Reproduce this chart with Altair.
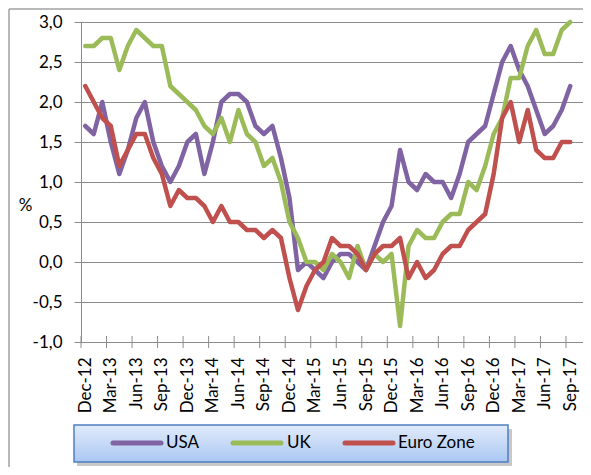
import altair as alt
import pandas as pd

# ---------------- data ----------------
tick_labels = ["Dec-12", "Mar-13", "Jun-13", "Sep-13", "Dec-13", "Mar-14", "Jun-14", "Sep-14",
               "Dec-14", "Mar-15", "Jun-15", "Sep-15", "Dec-15", "Mar-16", "Jun-16", "Sep-16",
               "Dec-16", "Mar-17", "Jun-17", "Sep-17"]
n_categories = 59  # monthly category axis Dec-12 .. Oct-17

usa = [1.7, 1.6, 2.0, 1.5, 1.1, 1.4, 1.8, 2.0, 1.5, 1.2,
       1.0, 1.2, 1.5, 1.6, 1.1, 1.5, 2.0, 2.1, 2.1, 2.0,
       1.7, 1.6, 1.7, 1.3, 0.8, -0.1, 0.0, -0.1, -0.2, 0.0,
       0.1, 0.1, 0.0, -0.1, 0.2, 0.5, 0.7, 1.4, 1.0, 0.9,
       1.1, 1.0, 1.0, 0.8, 1.1, 1.5, 1.6, 1.7, 2.1, 2.5,
       2.7, 2.4, 2.2, 1.9, 1.6, 1.7, 1.9, 2.2]
uk = [2.7, 2.7, 2.8, 2.8, 2.4, 2.7, 2.9, 2.8, 2.7, 2.7,
      2.2, 2.1, 2.0, 1.9, 1.7, 1.6, 1.8, 1.5, 1.9, 1.6,
      1.5, 1.2, 1.3, 1.0, 0.5, 0.3, 0.0, 0.0, -0.1, 0.1,
      0.0, -0.2, 0.2, -0.1, 0.1, 0.0, 0.1, -0.8, 0.2, 0.4,
      0.3, 0.3, 0.5, 0.6, 0.6, 1.0, 0.9, 1.2, 1.6, 1.8,
      2.3, 2.3, 2.7, 2.9, 2.6, 2.6, 2.9, 3.0]
euro = [2.2, 2.0, 1.8, 1.7, 1.2, 1.4, 1.6, 1.6, 1.3, 1.1,
        0.7, 0.9, 0.8, 0.8, 0.7, 0.5, 0.7, 0.5, 0.5, 0.4,
        0.4, 0.3, 0.4, 0.3, -0.2, -0.6, -0.3, -0.1, 0.0, 0.3,
        0.2, 0.2, 0.1, -0.1, 0.1, 0.2, 0.2, 0.3, -0.2, 0.0,
        -0.2, -0.1, 0.1, 0.2, 0.2, 0.4, 0.5, 0.6, 1.1, 1.8,
        2.0, 1.5, 1.9, 1.4, 1.3, 1.3, 1.5, 1.5]

series_names = ["USA", "UK", "Euro Zone"]
series_colors = ["#7f63a2", "#9bbb59", "#c0504d"]
y_ticks = [-1.0, -0.5, 0.0, 0.5, 1.0, 1.5, 2.0, 2.5, 3.0]

# ---------------- build tables ----------------
rows = []
for name, vals in zip(series_names, [usa, uk, euro]):
    for i, v in enumerate(vals):
        rows.append({"series": name, "m": i + 0.5, "value": v})
df = pd.DataFrame(rows)

tick_df = pd.DataFrame({"m": [3 * k for k in range(len(tick_labels))]})

W, H = 502, 320
FONT = "Lato"
GRID = "#8c8c8c"

x_scale = alt.Scale(domain=[0, n_categories], nice=False, zero=False)
y_scale = alt.Scale(domain=[-1, 3], nice=False, zero=False)

label_array = "[" + ",".join("'" + l + "'" for l in tick_labels) + "]"

x_axis = alt.Axis(
    values=[3 * k + 0.5 for k in range(len(tick_labels))],
    labelExpr=label_array + "[floor(datum.value / 3)]",
    labelAngle=270, labelAlign="right", labelBaseline="middle",
    ticks=False, tickSize=0, labelPadding=15,
    labelOverlap=False, labelFlush=False,
    labelFont=FONT, labelFontSize=17, labelColor="#000000",
    domainColor=GRID, domainWidth=1, grid=False, title=None,
)
y_axis = alt.Axis(
    values=y_ticks,
    labelExpr="(datum.value < 0 ? '-' : '') + replace(format(abs(datum.value), '.1f'), '.', ',')",
    labelFont=FONT, labelFontSize=17, labelColor="#000000", labelPadding=12,
    labelOverlap=False, labelFlush=False,
    tickSize=7, tickColor=GRID, domainColor=GRID, domainWidth=1,
    grid=True, gridColor=GRID, gridWidth=1,
    title="%", titleAngle=0, titleX=-56, titleY=183, titleAlign="center",
    titleBaseline="middle", titleFont=FONT, titleFontSize=17,
    titleFontWeight="normal", titleColor="#000000",
)

layers = []

# outer frame (left and top edges)
frame_df = pd.DataFrame({"k": [0]})
layers.append(alt.Chart(frame_df).mark_rule(color="#a0a0a0", strokeWidth=1.5).encode(
    x=alt.value(-72), y=alt.value(-13), y2=alt.value(470)))
layers.append(alt.Chart(frame_df).mark_rule(color="#a0a0a0", strokeWidth=1.5).encode(
    x=alt.value(-72), x2=alt.value(510), y=alt.value(-13)))

# data lines
for name, col in zip(series_names, series_colors):
    layers.append(
        alt.Chart(df).transform_filter(alt.datum.series == name)
        .mark_line(color=col, strokeWidth=4.5, strokeJoin="round", strokeCap="round")
        .encode(x=alt.X("m:Q", scale=x_scale, axis=x_axis),
                y=alt.Y("value:Q", scale=y_scale, axis=y_axis))
    )

# crossing tick marks on the category axis
layers.append(
    alt.Chart(tick_df).mark_rule(color=GRID, strokeWidth=1).encode(
        x=alt.X("m:Q", scale=x_scale, axis=x_axis),
        y=alt.YDatum(-1.075, scale=y_scale, axis=y_axis),
        y2=alt.datum(-0.925),
    )
)

# legend box with shadow and gradient
layers.append(alt.Chart(frame_df).mark_rect(color="#9a9a9a", opacity=0.55).encode(
    x=alt.value(-4), x2=alt.value(431), y=alt.value(407), y2=alt.value(444)))
grad = alt.Gradient(
    gradient="linear",
    stops=[alt.GradientStop(offset=0, color="#e2ebfa"),
           alt.GradientStop(offset=1, color="#a9c7f3")],
    x1=0, x2=0, y1=0, y2=1,
)
layers.append(alt.Chart(frame_df).mark_rect(fill=grad, stroke="#4f7fc0", strokeWidth=1.5).encode(
    x=alt.value(-7), x2=alt.value(427), y=alt.value(403), y2=alt.value(440)))

legend_line_x = [32, 152, 264]
legend_text_x = [85, 206, 317]
for name, col, lx, tx in zip(series_names, series_colors, legend_line_x, legend_text_x):
    ldf = pd.DataFrame({"label": [name]})
    layers.append(alt.Chart(ldf).mark_rule(color=col, strokeWidth=5, strokeCap="round").encode(
        x=alt.value(lx), x2=alt.value(lx + 48), y=alt.value(421)))
    layers.append(alt.Chart(ldf).mark_text(align="left", baseline="middle", font=FONT,
                                           fontSize=17, color="#000000").encode(
        x=alt.value(tx), y=alt.value(421), text="label:N"))

chart = alt.layer(*layers).properties(
    width=W, height=H,
    autosize=alt.AutoSizeParams(type="none"),
    padding={"left": 73, "top": 14, "right": 0, "bottom": 125},
).configure_view(strokeWidth=0)

chart.save("out.html", embed_options={"renderer": "svg", "actions": False})
